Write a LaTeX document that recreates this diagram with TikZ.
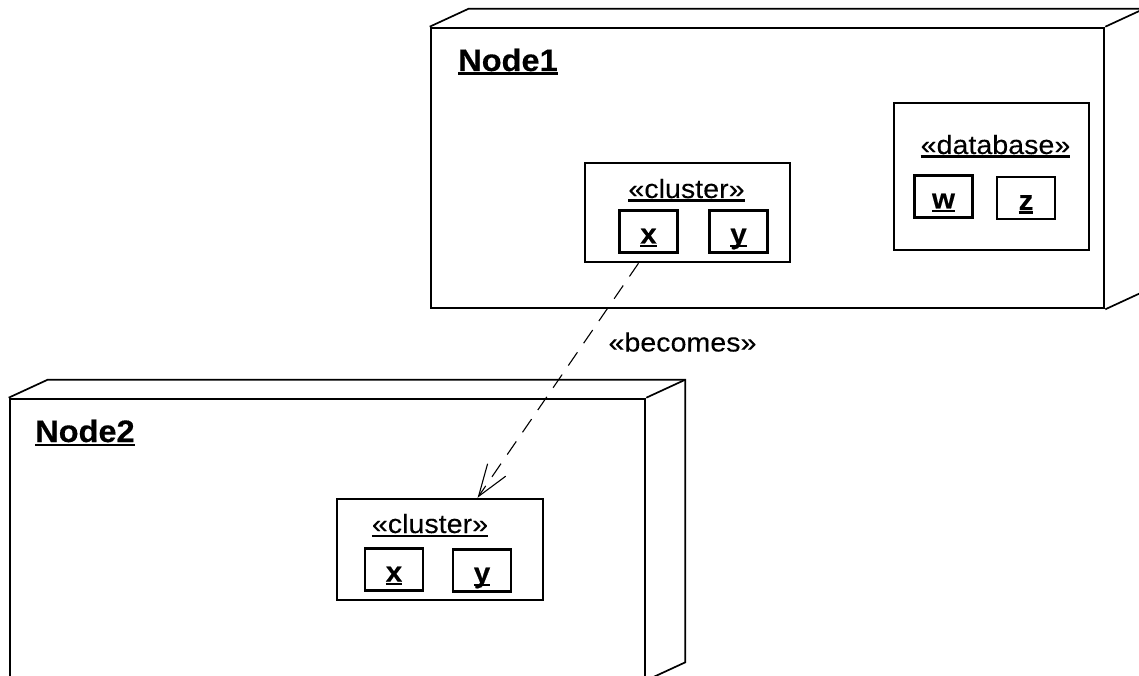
\documentclass[tikz,border=0pt]{standalone}
\usepackage{fontspec}
\setmainfont{Liberation Sans}[FakeStretch=1.08,FakeBold=0.15,BoldFeatures={FakeStretch=1.05,FakeBold=0.35}]
\usetikzlibrary{arrows.meta,positioning}
\newcommand{\ulined}[1]{\setbox0=\hbox{#1}\rlap{\vrule width\wd0 height -1.5pt depth 3.7pt}\box0}

\begin{document}
\begin{tikzpicture}[
    x=1pt, y=-1pt,
    front/.style={rectangle, draw, line width=2.6pt, minimum height=280pt},
    back/.style={line width=1.7pt, line join=miter},
    frame/.style={rectangle, draw, line width=2.5pt, inner sep=0pt},
    part/.style={rectangle, draw, line width=2.5pt, minimum width=58pt,
                 minimum height=42pt, inner sep=0pt, text height=25pt, text depth=1pt,
                 font=\fontsize{28}{33}\selectfont\bfseries},
    nodename/.style={anchor=base west, inner sep=0pt, font=\fontsize{31}{36}\selectfont\bfseries},
    stereo/.style={anchor=base, inner sep=0pt, font=\fontsize{26.5}{31}\selectfont},
    dependency/.style={dash pattern=on 16pt off 11pt, line width=1.1pt,
                       -{Straight Barb[length=32pt,width=22pt]}}
]
\useasboundingbox (0,0) rectangle (1139,676);
\clip (0,0) rectangle (1139,676);

% the two nodes, drawn as boxes
\node[front, minimum width=673pt] (node1) at (767.5,168) {};
\node[front, minimum width=635pt] (node2) at (327.5,539) {};
\foreach \n in {node1,node2} {
    \draw[back] (\n.north west) -- ++(39,-18) -| ([shift={(39,-18)}]\n.south east) -- (\n.south east);
    \draw[back] (\n.north east) -- ++(39,-18);
}
\node[nodename] (name1) at (458,71)  {\ulined{Node1}};
\node[nodename] (name2) at (35,442)  {\ulined{Node2}};

% Node1 contents
\node[frame, minimum width=205pt, minimum height=99pt]  (cluster1) at (687.5,212.5) {};
\node[stereo] (st1) at (686.5,198) {\ulined{«cluster»}};
\node[part] (x1) at (648.5,231.5) {\ulined{x}};
\node[part] (y1) at (738.5,231.5) {\ulined{y}};

\node[frame, minimum width=195pt, minimum height=147pt] (db) at (991.5,176.5) {};
\node[stereo] (st2) at (995.5,154) {\ulined{«database»}};
\node[part] (w) at (943.5,196.5) {\ulined{w}};
\node[part] (z) at (1026,198)    {\ulined{z}};

% Node2 contents
\node[frame, minimum width=206pt, minimum height=101pt] (cluster2) at (440,549.5) {};
\node[stereo] (st3) at (430,533) {\ulined{«cluster»}};
\node[part] (x2) at (394,569.5) {\ulined{x}};
\node[part] (y2) at (482,570.5) {\ulined{y}};

\draw[dependency] (cluster1.-134) -- (cluster2.54);
\node[stereo] (becomes) at (682.5,351.5) {«becomes»};
\end{tikzpicture}
\end{document}
